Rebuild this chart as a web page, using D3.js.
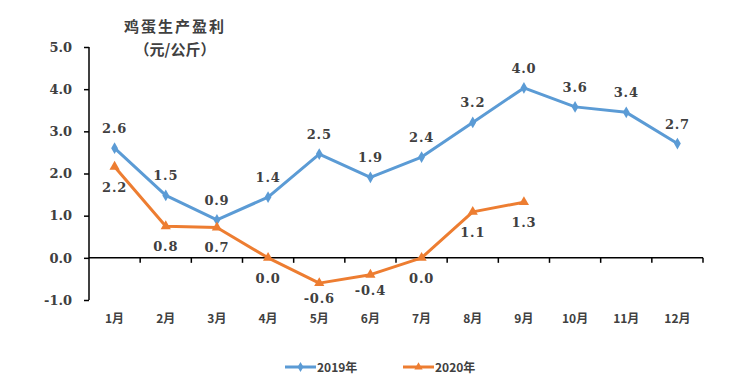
<!DOCTYPE html>
<html><head><meta charset="utf-8">
<script src="https://cdn.jsdelivr.net/npm/d3@7/dist/d3.min.js"></script>
<style>body{margin:0;background:#fff}svg{display:block}</style>
</head><body>
<svg id="c" width="752" height="382"></svg>
<script>
const categories = ["1月","2月","3月","4月","5月","6月","7月","8月","9月","10月","11月","12月"];
const values2019 = [2.6,1.48,0.9,1.44,2.46,1.91,2.39,3.21,4.03,3.58,3.45,2.71];
const labels2019 = ["2.6","1.5","0.9","1.4","2.5","1.9","2.4","3.2","4.0","3.6","3.4","2.7"];
const values2020 = [2.16,0.75,0.72,0.0,-0.6,-0.4,0.0,1.09,1.32];
const labels2020 = ["2.2","0.8","0.7","0.0","-0.6","-0.4","0.0","1.1","1.3"];
const yTicks = [-1,0,1,2,3,4,5];
const seriesNames = ["2019年","2020年"];

const svg = d3.select("#c");
const x = d3.scaleBand().domain(categories).range([89,703]);
const y = d3.scaleLinear().domain([-1,5]).range([300,47]);
const txt = "#404040";
const numFont = "'DejaVu Serif', serif";
const cjkFont = "'Noto Sans CJK SC', sans-serif";

// y axis
const ya = svg.append("g").attr("transform","translate(89,0)")
  .call(d3.axisLeft(y).tickValues(yTicks).tickSize(5).tickPadding(12).tickFormat(d=>d.toFixed(1)));
ya.select(".domain").attr("stroke","#000").attr("stroke-width",1.5).attr("d","M0,47V300");
ya.selectAll(".tick line").attr("stroke","#000").attr("stroke-width",1.5);
ya.selectAll(".tick text").attr("fill",txt).attr("font-family",numFont).attr("font-weight","bold").attr("font-size",13);

// x axis at zero
const xa = svg.append("g").attr("transform",`translate(0,${y(0)})`)
  .call(d3.axisBottom(x).tickSize(0).tickFormat(""));
xa.select(".domain").attr("stroke","#000").attr("stroke-width",1.5).attr("d","M89,0H703");
const bounds = d3.range(categories.length+1).map(i => 89 + i*x.step());
xa.selectAll(".bt").data(bounds.slice(1)).join("line")
  .attr("x1",d=>d).attr("x2",d=>d).attr("y1",0).attr("y2",5).attr("stroke","#000").attr("stroke-width",1.5);

// x category labels
svg.append("g").selectAll("text").data(categories).join("text")
  .attr("x",d=>x(d)+x.bandwidth()/2).attr("y",323).attr("text-anchor","middle")
  .attr("fill",txt).attr("font-family",cjkFont).attr("font-weight","bold").attr("font-size",12)
  .text(d=>d);

// title
svg.append("text").attr("x",175).attr("y",32).attr("text-anchor","middle")
  .attr("fill",txt).attr("font-family",cjkFont).attr("font-weight","bold").attr("font-size",15)
  .attr("letter-spacing",2).text("鸡蛋生产盈利");
svg.append("text").attr("x",175).attr("y",55).attr("text-anchor","middle")
  .attr("fill",txt).attr("font-family",cjkFont).attr("font-weight","bold").attr("font-size",15)
  .text("（元/公斤）");

const cx = i => x(categories[i]) + x.bandwidth()/2;
const line = d3.line().x((d,i)=>cx(i)).y(d=>y(d));
const blue = "#5B9BD5", orange = "#ED7D31";

svg.append("path").datum(values2019).attr("d",line).attr("fill","none").attr("stroke",blue).attr("stroke-width",3).attr("stroke-linejoin","round");
svg.append("path").datum(values2020).attr("d",line).attr("fill","none").attr("stroke",orange).attr("stroke-width",3).attr("stroke-linejoin","round");

svg.append("g").selectAll("path").data(values2019).join("path")
  .attr("d",d3.symbol(d3.symbolDiamond,40)).attr("transform",(d,i)=>`translate(${cx(i)},${y(d)})`).attr("fill",blue);
svg.append("g").selectAll("path").data(values2020).join("path")
  .attr("d",d3.symbol(d3.symbolTriangle,45)).attr("transform",(d,i)=>`translate(${cx(i)},${y(d)})`).attr("fill",orange);

// data labels
svg.append("g").selectAll("text").data(values2019).join("text")
  .attr("x",(d,i)=>cx(i)).attr("y",d=>y(d)-15).attr("text-anchor","middle")
  .attr("fill",txt).attr("font-family",numFont).attr("font-weight","bold").attr("font-size",13)
  .attr("letter-spacing",0.8).text((d,i)=>labels2019[i]);
svg.append("g").selectAll("text").data(values2020).join("text")
  .attr("x",(d,i)=>cx(i)).attr("y",d=>y(d)+(d<0?20:25)).attr("text-anchor","middle")
  .attr("fill",txt).attr("font-family",numFont).attr("font-weight","bold").attr("font-size",13)
  .attr("letter-spacing",0.8).text((d,i)=>labels2020[i]);

// legend
const leg = [{n:seriesNames[0],c:blue,s:d3.symbolDiamond,x:285},{n:seriesNames[1],c:orange,s:d3.symbolTriangle,x:403}];
const lg = svg.append("g").selectAll("g").data(leg).join("g").attr("transform",d=>`translate(${d.x},367)`);
lg.append("line").attr("x1",0).attr("x2",31).attr("stroke",d=>d.c).attr("stroke-width",3);
lg.append("path").attr("d",d=>d3.symbol(d.s,30)()).attr("transform","translate(15.5,0)").attr("fill",d=>d.c);
lg.append("text").attr("x",32).attr("y",4.5).attr("fill",txt).attr("font-family",cjkFont).attr("font-weight","bold").attr("font-size",12).text(d=>d.n);
</script>
</body></html>
